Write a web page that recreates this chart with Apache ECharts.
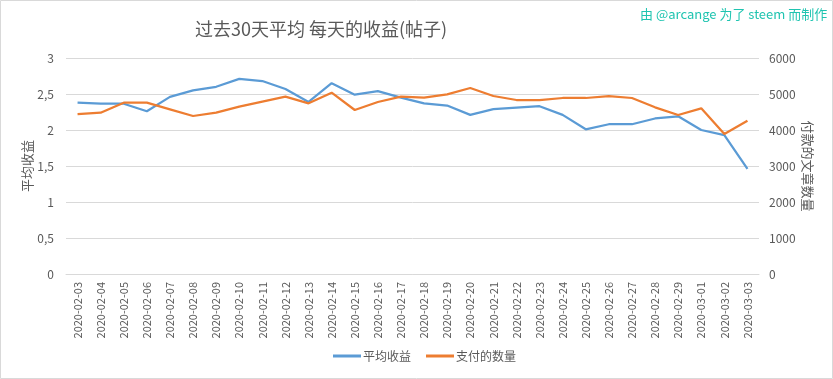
<!DOCTYPE html>
<html><head><meta charset="utf-8">
<script src="https://cdn.jsdelivr.net/npm/echarts@6/dist/echarts.min.js"></script>
<style>html,body{margin:0;padding:0;background:#fff}#c{width:833px;height:379px}</style>
</head><body><div id="c"></div>
<script>
const dates = ['2020-02-03','2020-02-04','2020-02-05','2020-02-06','2020-02-07','2020-02-08','2020-02-09','2020-02-10','2020-02-11','2020-02-12','2020-02-13','2020-02-14','2020-02-15','2020-02-16','2020-02-17','2020-02-18','2020-02-19','2020-02-20','2020-02-21','2020-02-22','2020-02-23','2020-02-24','2020-02-25','2020-02-26','2020-02-27','2020-02-28','2020-02-29','2020-03-01','2020-03-02','2020-03-03'];
const avgReward = [2.38,2.365,2.365,2.26,2.46,2.55,2.60,2.71,2.68,2.57,2.39,2.65,2.49,2.54,2.45,2.37,2.34,2.21,2.29,2.31,2.33,2.21,2.01,2.08,2.08,2.16,2.19,2.00,1.93,1.46];
const paidPosts = [4444,4481,4759,4759,4574,4389,4481,4648,4787,4926,4741,5037,4556,4778,4926,4898,4991,5167,4944,4833,4833,4889,4889,4944,4889,4630,4417,4602,3889,4259];
const leftTicks = [0,0.5,1,1.5,2,2.5,3];
const rightTicks = [0,1000,2000,3000,4000,5000,6000];
const titleText = '过去30天平均 每天的收益(帖子)';
const creditText = '由 @arcange 为了 steem 而制作';
const seriesNames = ['平均收益','支付的数量'];
const leftName = '平均收益';
const rightName = '付款的文章数量';

const FONT = '"Noto Sans CJK SC", "Noto Sans", sans-serif';
const chart = echarts.init(document.getElementById('c'), null, {renderer:'canvas'});
chart.setOption({
  animation:false,
  textStyle:{fontFamily:FONT},
  graphic:[
    {type:'rect', shape:{x:0.5,y:0.5,width:832,height:378}, style:{fill:'none',stroke:'#d9d9d9',lineWidth:1}, silent:true},
    {type:'text', left:195, top:20, style:{text:titleText, fill:'#595959', font:'18px '+FONT}},
    {type:'text', left:640, top:8, style:{text:creditText, fill:'#1fc4b0', font:'13px '+FONT}}
  ],
  legend:{
    bottom:12, left:328, itemWidth:28, itemHeight:3, itemGap:15,
    icon:'rect',
    textStyle:{color:'#595959', fontSize:12, fontFamily:FONT, padding:[0,0,0,-3]},
    data:seriesNames
  },
  grid:{left:66, right:74, top:58, bottom:105, containLabel:false},
  xAxis:{
    type:'category', data:dates, boundaryGap:true,
    axisLine:{lineStyle:{color:'#d9d9d9'}},
    axisTick:{show:false},
    axisLabel:{rotate:90, color:'#595959', fontSize:11, margin:8, interval:0, fontFamily:FONT}
  },
  yAxis:[
    {type:'value', min:0, max:3, interval:0.5,
     name:leftName, nameLocation:'middle', nameGap:32, nameRotate:90, nameMoveOverlap:false,
     nameTextStyle:{color:'#595959', fontSize:13, fontFamily:FONT},
     axisLine:{show:false}, axisTick:{show:false},
     axisLabel:{color:'#595959', fontSize:12, margin:12, formatter:v=>String(v).replace('.',',')},
     splitLine:{lineStyle:{color:'#d9d9d9'}}},
    {type:'value', min:0, max:6000, interval:1000,
     name:rightName, nameLocation:'middle', nameGap:42, nameRotate:-90, nameMoveOverlap:false,
     nameTextStyle:{color:'#595959', fontSize:13, fontFamily:FONT},
     axisLine:{show:false}, axisTick:{show:false},
     axisLabel:{color:'#595959', fontSize:12, margin:10, formatter:v=>String(v)},
     splitLine:{show:false}}
  ],
  series:[
    {name:seriesNames[0], type:'line', yAxisIndex:0, data:avgReward, symbol:'none',
     lineStyle:{color:'#5b9bd5', width:2.25}, itemStyle:{color:'#5b9bd5'}},
    {name:seriesNames[1], type:'line', yAxisIndex:1, data:paidPosts, symbol:'none',
     lineStyle:{color:'#ed7d31', width:2.25}, itemStyle:{color:'#ed7d31'}}
  ]
});
</script></body></html>
